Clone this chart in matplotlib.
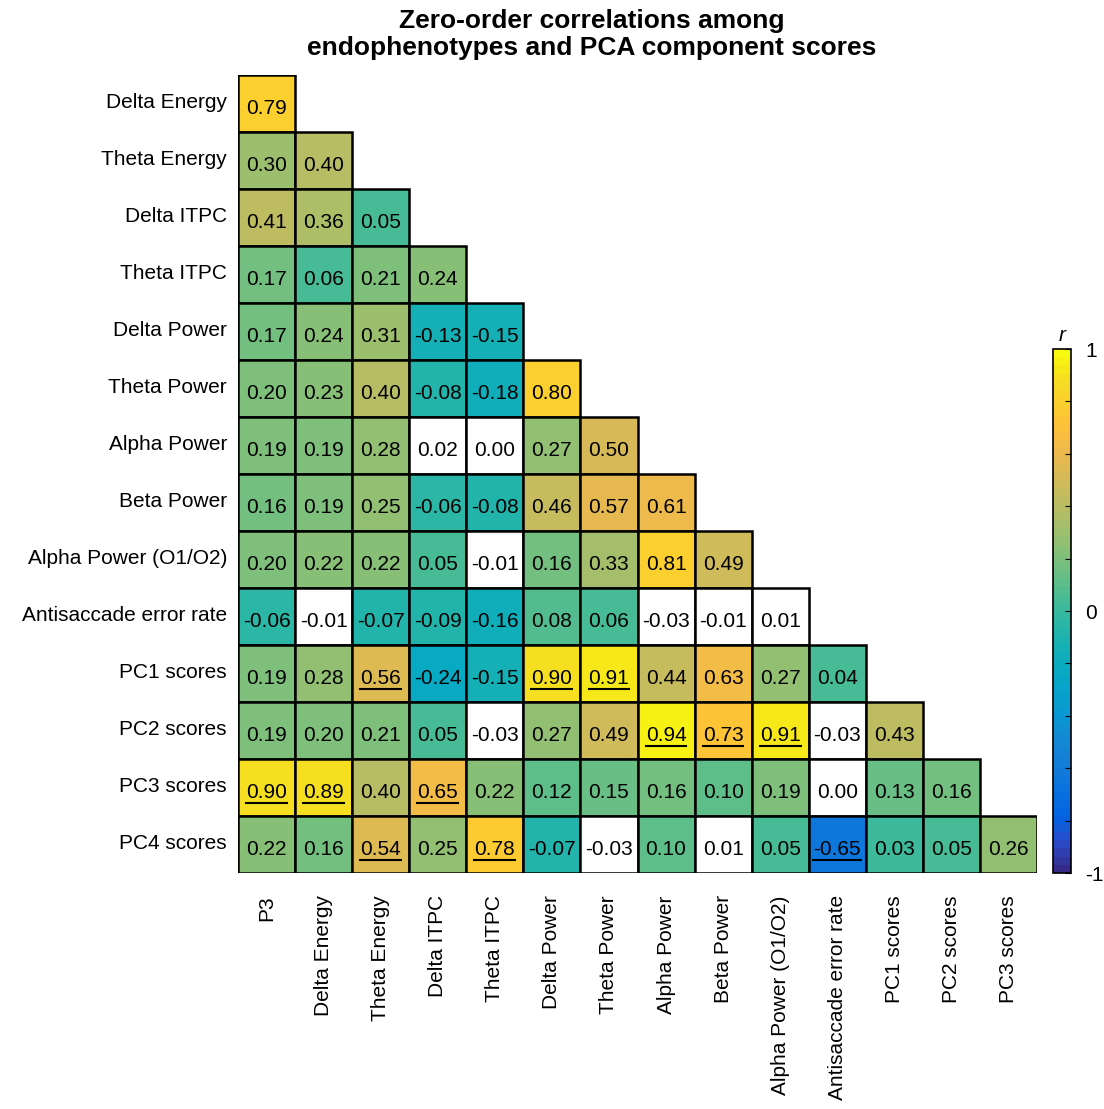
import numpy as np
import matplotlib.pyplot as plt
from matplotlib.colors import LinearSegmentedColormap
from matplotlib.patches import Rectangle

plt.rcParams['font.family'] = ['Liberation Sans', 'DejaVu Sans']

row_labels = ['Delta Energy', 'Theta Energy', 'Delta ITPC', 'Theta ITPC', 'Delta Power',
              'Theta Power', 'Alpha Power', 'Beta Power', 'Alpha Power (O1/O2)',
              'Antisaccade error rate', 'PC1 scores', 'PC2 scores', 'PC3 scores', 'PC4 scores']
col_labels = ['P3', 'Delta Energy', 'Theta Energy', 'Delta ITPC', 'Theta ITPC', 'Delta Power',
              'Theta Power', 'Alpha Power', 'Beta Power', 'Alpha Power (O1/O2)',
              'Antisaccade error rate', 'PC1 scores', 'PC2 scores', 'PC3 scores']

# lower triangle, row by row
r_values = [
    [0.79],
    [0.30, 0.40],
    [0.41, 0.36, 0.05],
    [0.17, 0.06, 0.21, 0.24],
    [0.17, 0.24, 0.31, -0.13, -0.15],
    [0.20, 0.23, 0.40, -0.08, -0.18, 0.80],
    [0.19, 0.19, 0.28, 0.02, 0.00, 0.27, 0.50],
    [0.16, 0.19, 0.25, -0.06, -0.08, 0.46, 0.57, 0.61],
    [0.20, 0.22, 0.22, 0.05, -0.01, 0.16, 0.33, 0.81, 0.49],
    [-0.06, -0.01, -0.07, -0.09, -0.16, 0.08, 0.06, -0.03, -0.01, 0.01],
    [0.19, 0.28, 0.56, -0.24, -0.15, 0.90, 0.91, 0.44, 0.63, 0.27, 0.04],
    [0.19, 0.20, 0.21, 0.05, -0.03, 0.27, 0.49, 0.94, 0.73, 0.91, -0.03, 0.43],
    [0.90, 0.89, 0.40, 0.65, 0.22, 0.12, 0.15, 0.16, 0.10, 0.19, 0.00, 0.13, 0.16],
    [0.22, 0.16, 0.54, 0.25, 0.78, -0.07, -0.03, 0.10, 0.01, 0.05, -0.65, 0.03, 0.05, 0.26],
]

# non-significant cells (row, col) -> white
not_sig = [(6, 3), (6, 4), (8, 4), (9, 1), (9, 7), (9, 8), (9, 9),
           (11, 4), (11, 10), (12, 10), (13, 6), (13, 8)]
# underlined cells (row, col)
underlined = [(10, 2), (10, 5), (10, 6), (11, 7), (11, 8), (11, 9),
              (12, 0), (12, 1), (12, 3), (13, 2), (13, 4), (13, 10)]

# parula-like colormap
parula_pts = [
    [0.2081, 0.1663, 0.5292], [0.1707, 0.2919, 0.7792], [0.0117, 0.3875, 0.8820],
    [0.0329, 0.4430, 0.8720], [0.0723, 0.4887, 0.8467], [0.0749, 0.5375, 0.8263],
    [0.0343, 0.5966, 0.8199], [0.0231, 0.6418, 0.7913], [0.0384, 0.6743, 0.7436],
    [0.1133, 0.7015, 0.6859], [0.2178, 0.7250, 0.6193], [0.3482, 0.7424, 0.5473],
    [0.4871, 0.7491, 0.4840], [0.6099, 0.7473, 0.4337], [0.7184, 0.7411, 0.3905],
    [0.8185, 0.7327, 0.3498], [0.9139, 0.7258, 0.3063], [0.9938, 0.7455, 0.2403],
    [0.9880, 0.8066, 0.1794], [0.9626, 0.8705, 0.1309], [0.9763, 0.9831, 0.0538],
]
cmap = LinearSegmentedColormap.from_list('parula', parula_pts, N=64)
norm = plt.Normalize(-1, 1)

n = len(row_labels)
fig = plt.figure(figsize=(11.04, 11.09), dpi=100)
ax = fig.add_axes([0.2156, 0.2128, 0.7237, 0.7196])
ax.set_xlim(0, n)
ax.set_ylim(n, 0)

texts = {}
for i, row in enumerate(r_values):
    for j, v in enumerate(row):
        fc = 'white' if (i, j) in not_sig else cmap(norm(v))
        ax.add_patch(Rectangle((j, i), 1, 1, facecolor=fc, edgecolor='black', lw=1.8))
        texts[(i, j)] = ax.text(j + 0.5, i + 0.58, f'{v:.2f}', ha='center', va='center',
                                fontsize=15, color='black')

for s in ax.spines.values():
    s.set_visible(False)
ax.set_xticks(np.arange(n) + 0.5)
ax.set_xticklabels(col_labels, rotation=90, fontsize=15)
ax.set_yticks(np.arange(n) + 0.45)
ax.set_yticklabels(row_labels, fontsize=15)
ax.tick_params(axis='y', length=0, pad=8)
ax.tick_params(axis='x', length=0, pad=16)

fig.text(0.536, 0.992, 'Zero-order correlations among\nendophenotypes and PCA component scores',
         ha='center', va='top', fontsize=19, fontweight='bold', linespacing=1.15)

# underlines
fig.canvas.draw()
rend = fig.canvas.get_renderer()
inv = ax.transData.inverted()
for key in underlined:
    bb = texts[key].get_window_extent(rend)
    (x0, y0), (x1, _) = inv.transform([(bb.x0, bb.y0), (bb.x1, bb.y0)])
    ax.plot([x0, x1], [y0 + 0.02, y0 + 0.02], color='black', lw=1.5)

cax = fig.add_axes([0.9538, 0.2128, 0.0163, 0.4725])
cb = fig.colorbar(plt.cm.ScalarMappable(norm=norm, cmap=cmap), cax=cax)
cb.set_ticks(np.arange(-1, 1.01, 0.2))
cb.set_ticklabels(['-1', '', '', '', '', '0', '', '', '', '', '1'])
cax.tick_params(direction='in', length=4, labelsize=15, pad=10)
cb.outline.set_linewidth(1.2)
cax.set_title('r', style='italic', fontsize=15, pad=6)

fig.savefig('out.png', dpi=100)
